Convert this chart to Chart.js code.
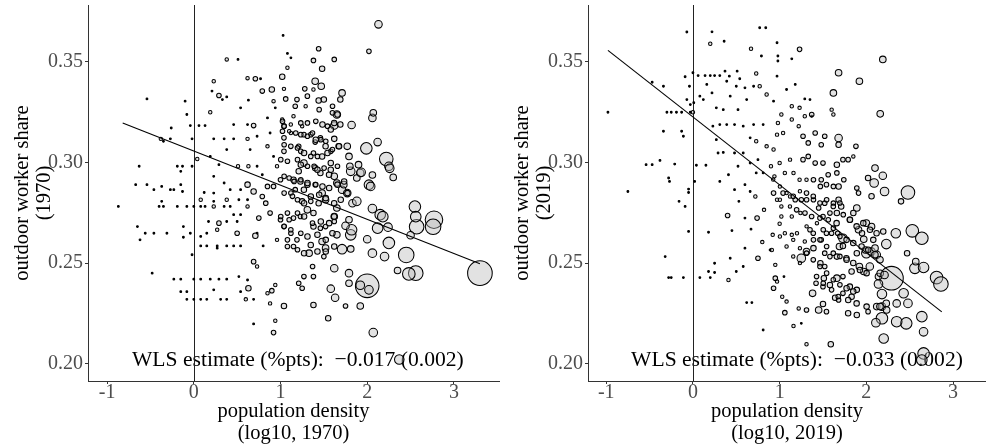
<!DOCTYPE html>
<html><head><meta charset="utf-8">
<script src="https://cdn.jsdelivr.net/npm/chart.js@4.4.1/dist/chart.umd.min.js"></script>
<style>
html,body{margin:0;padding:0;background:#fff;width:986px;height:446px;overflow:hidden}
canvas{position:absolute;top:0}
</style></head><body>
<canvas id="c1" width="500" height="446" style="left:0"></canvas>
<canvas id="c2" width="486" height="446" style="left:500px"></canvas>
<script>
// ---------- tick labels ----------
const xTicks = [-1, 0, 1, 2, 3];
const xTickLabels = ['-1', '0', '1', '2', '3'];
const yTicks = [0.20, 0.25, 0.30, 0.35];
const yTickLabels = ['0.20', '0.25', '0.30', '0.35'];

// ---------- 1970 panel: log10 density, outdoor share, weight ----------
const x1970 = [
3.30,2.00,2.77,2.76,2.57,2.55,2.56,2.45,2.56,2.48,
2.25,2.20,2.35,2.50,2.24,2.22,2.25,2.26,2.30,1.99,
2.12,2.06,2.07,2.13,2.02,2.02,2.04,2.06,2.06,2.15,
2.18,2.12,2.00,2.06,2.02,1.92,2.07,2.37,1.92,1.79,
1.79,1.81,1.82,1.81,1.71,1.75,1.79,1.83,1.88,1.81,
1.80,1.90,1.92,1.88,1.93,1.82,1.77,1.79,1.62,1.58,
1.63,1.55,1.75,1.71,1.77,1.73,1.65,1.62,1.65,1.62,
1.50,1.52,1.48,1.38,1.33,1.37,1.38,1.27,1.25,1.21,
1.38,1.04,0.92,0.94,0.69,1.65,1.71,1.69,1.62,1.44,
1.48,1.38,1.40,1.47,1.44,1.50,1.60,1.62,1.58,1.69,
1.62,1.67,1.58,1.52,1.46,1.40,1.35,1.27,1.21,1.25,
1.38,1.48,1.58,1.62,1.65,1.56,1.46,1.40,1.27,1.21,
1.15,1.23,1.31,1.40,1.48,1.52,1.44,1.35,1.27,1.17,
1.12,1.25,1.31,1.38,1.23,1.15,1.08,1.00,1.04,1.12,
1.19,1.08,0.96,1.15,1.46,1.52,1.62,1.12,1.04,1.04,
1.04,1.02,1.15,1.17,1.19,1.29,1.31,1.38,1.28,1.04,
1.06,1.02,1.08,1.12,1.08,1.03,0.92,0.94,0.90,0.79,
0.85,0.88,0.85,0.92,0.96,1.00,0.92,0.85,0.79,0.83,
0.88,0.69,0.62,0.62,0.62,0.75,0.73,0.71,0.80,0.69,
0.73,0.62,0.63,0.60,0.69,0.85,0.90,0.88,0.94,0.52,
0.54,0.38,0.31,0.23,0.15,0.08,0.00,-0.08,-0.08,-0.15,
-0.23,-0.15,0.00,0.08,0.19,0.29,0.38,-0.48,0.08,0.15,
0.27,0.38,0.46,0.54,0.27,-0.02,-0.04,-0.12,-0.12,0.08,
0.15,0.27,0.29,0.17,0.38,0.50,0.50,0.46,0.54,0.42,
0.35,0.23,0.13,0.08,0.00,-0.08,-0.19,-0.35,-0.40,-0.87,
0.23,0.08,0.38,0.52,0.54,0.42,0.35,0.23,0.12,0.23,
0.19,0.29,0.04,-0.02,-0.13,-0.19,-0.15,-0.15,-0.27,-0.23,
-0.13,-0.37,-0.46,-0.54,-0.67,-0.63,-0.37,-0.65,-0.56,-0.46,
-0.31,-0.62,-0.54,-0.10,-0.08,-0.04,0.06,0.13,-0.02,-0.26,
-0.27,-0.35,-0.38,0.19,0.21,0.23,0.29,0.38,0.33,0.38,
0.51,0.62,0.71,0.77,0.63,0.54,0.46,0.62,0.69,0.73,
0.62,0.46,0.35,0.23,0.73,0.63,0.51,0.65,0.38,0.79,
1.023,1.042,1.119,1.234,1.311,1.407,1.484,1.542,1.619,1.657,
1.599,1.446,1.023,1.100,1.176,1.234,1.311,1.369,1.407,1.465,
1.522,1.042,1.119,1.196,1.234,1.272,1.349,1.426,1.542,1.599,
1.676,1.003,1.080,1.196,1.234,1.311,1.388,1.426,1.503,1.580,
1.657,1.042,1.100,1.157,1.234,1.311,1.407,1.484,1.561,1.657,
1.734,1.042,1.138,1.196,1.272,1.349,1.446,1.522,1.619,1.695,
1.772,1.003,1.100,1.196,1.272,1.369,1.465,1.561,1.619,1.042,
1.119,1.234,1.311,1.426,1.522,1.599,1.080,1.196,1.272,1.349,
1.426,1.522];
const y1970 = [
0.245,0.2387,0.2715,0.268,0.268,0.278,0.273,0.254,0.245,0.2446,
0.260,0.2532,0.2463,0.2638,0.2678,0.3016,0.298,0.297,0.2925,0.3069,
0.310,0.322,0.3245,0.3684,0.355,0.2889,0.288,0.2937,0.277,0.274,
0.273,0.2673,0.2618,0.2549,0.2367,0.239,0.2155,0.2022,0.2287,0.245,
0.240,0.264,0.2665,0.257,0.2569,0.2685,0.2715,0.2797,0.2806,0.2955,
0.298,0.2988,0.2947,0.2922,0.295,0.3185,0.3079,0.3029,0.2474,0.2373,
0.2328,0.2226,0.2287,0.2864,0.2847,0.2889,0.2773,0.2731,0.264,0.2582,
0.2532,0.2574,0.2607,0.2681,0.2549,0.2483,0.2433,0.2433,0.2375,0.240,
0.2292,0.2287,0.2155,0.2214,0.2198,0.3237,0.3344,0.3311,0.351,0.3563,
0.3464,0.3505,0.3402,0.3377,0.3306,0.3311,0.3278,0.3182,0.3162,0.3187,
0.3116,0.3079,0.3054,0.3079,0.3121,0.310,0.3137,0.3137,0.3079,0.3179,
0.3046,0.3029,0.2996,0.293,0.2897,0.2938,0.2947,0.2971,0.2996,0.2955,
0.2913,0.2905,0.2889,0.2889,0.2847,0.2814,0.2797,0.283,0.2864,0.2864,
0.2847,0.2806,0.2764,0.2748,0.2731,0.2723,0.2748,0.2715,0.2681,0.2648,
0.2615,0.2615,0.2615,0.2582,0.2673,0.2681,0.2706,0.3145,0.3179,0.3121,
0.3054,0.3212,0.3228,0.3278,0.3311,0.3278,0.3328,0.3361,0.3364,0.3364,
0.3314,0.3424,0.3469,0.3518,0.354,0.3629,0.3303,0.327,0.3361,0.3353,
0.322,0.3145,0.3079,0.3029,0.298,0.2913,0.288,0.288,0.283,0.2797,
0.2748,0.2855,0.2889,0.2814,0.2781,0.2723,0.2648,0.2635,0.2585,0.2507,
0.2483,0.2416,0.2375,0.232,0.232,0.235,0.2363,0.230,0.2391,0.2433,
0.2358,0.232,0.232,0.2367,0.232,0.232,0.232,0.232,0.2358,0.2358,
0.242,0.242,0.242,0.242,0.242,0.242,0.242,0.245,0.2585,0.2585,
0.2585,0.2585,0.2585,0.2585,0.2574,0.2541,0.2648,0.2681,0.2628,0.2632,
0.2648,0.2665,0.2698,0.2706,0.2706,0.2706,0.2648,0.274,0.274,0.2781,
0.2781,0.2781,0.2781,0.2781,0.2781,0.2781,0.2781,0.2781,0.2781,0.2781,
0.2806,0.2814,0.2814,0.2814,0.2864,0.2864,0.2897,0.2847,0.285,0.293,
0.3029,0.2988,0.3016,0.298,0.298,0.298,0.2955,0.2889,0.2864,0.2864,
0.2855,0.288,0.2864,0.2889,0.2889,0.298,0.2806,0.2681,0.2648,0.2648,
0.2648,0.2615,0.3314,0.3303,0.3237,0.3182,0.3182,0.3182,0.3116,0.317,
0.3116,0.3104,0.3116,0.3248,0.3353,0.3402,0.3331,0.3324,0.3311,0.351,
0.351,0.3417,0.3414,0.3414,0.3308,0.327,0.3187,0.3187,0.3182,0.3129,
0.3116,0.3116,0.3116,0.3116,0.298,0.298,0.298,0.3063,0.3063,0.2938,
0.3203,0.3179,0.3187,0.3195,0.3195,0.3203,0.3187,0.3179,0.3195,0.3237,
0.3245,0.3261,0.3154,0.3154,0.3145,0.3137,0.3129,0.3145,0.3112,0.3112,
0.3104,0.3087,0.3079,0.3071,0.3054,0.3046,0.3029,0.3029,0.3046,0.3063,
0.3079,0.3013,0.3005,0.3013,0.2988,0.298,0.298,0.2963,0.2971,0.2963,
0.298,0.293,0.2922,0.2905,0.2913,0.2897,0.2889,0.288,0.2872,0.2889,
0.2905,0.2847,0.2831,0.2814,0.2797,0.2806,0.2839,0.2822,0.2797,0.2814,
0.2847,0.2731,0.2715,0.2748,0.2731,0.2698,0.2706,0.2698,0.2731,0.2682,
0.2665,0.2648,0.2632,0.264,0.2615,0.2648,0.2582,0.2566,0.2549,0.259,
0.2557,0.2557];
const w1970 = [
144,132,72,56,49,30,25,56,49,36,
30,16,9,12,16,42,16,16,9,30,
12,12,9,12,4,20,16,9,16,25,
25,25,12,16,16,16,16,20,9,12,
9,25,25,9,20,12,9,12,16,16,
9,9,12,9,16,12,9,9,12,12,
12,6,4,12,12,9,9,9,9,6,
4,9,9,6,9,4,4,4,4,4,
6,6,4,2,1,12,9,6,4,4,
6,4,9,9,6,6,4,12,6,6,
6,6,4,6,4,4,4,4,4,2,
4,6,6,9,9,6,6,6,9,6,
6,6,6,4,9,9,6,6,6,4,
4,6,9,6,4,4,4,4,4,4,
4,4,2,4,4,4,4,2,4,4,
4,2,2,4,4,2,4,2,4,2,
4,6,2,1,1,1,2,1,6,4,
1,1,2,1,2,4,4,4,4,4,
4,6,6,1,2,4,1,6,1,4,
2,1,6,2,1,2,4,2,2,1,
1,1,1,1,1,1,1,1,1,1,
1,1,1,1,1,1,1,1,1,1,
1,1,1,1,1,1,1,1,1,1,
1,2,4,1,1,1,4,1,1,1,
1,2,1,1,1,1,1,1,1,1,
1,2,2,1,1,1,1,1,1,1,
1,1,2,1,1,1,1,1,1,1,
1,1,1,1,1,1,1,1,1,1,
1,1,1,1,1,1,1,1,1,1,
1,1,2,2,1,2,4,1,1,2,
1,2,4,1,1,1,1,1,4,1,
2,1,1,1,1,2,2,1,1,1,
4,4,2,4,4,4,6,4,6,6,
4,4,4,2,4,4,4,4,6,4,
4,4,4,4,4,6,4,4,6,4,
6,4,4,4,6,4,4,6,4,6,
4,4,4,4,4,6,4,6,6,6,
6,4,4,4,6,4,6,6,6,6,
6,4,4,4,6,4,6,6,6,4,
4,4,6,6,6,6,4,4,6,6,
6,6];
const fitX1970 = [-0.82, 3.30];
const fitY1970 = [0.3195, 0.2497];

// ---------- 2019 panel ----------
const x2019 = [
2.29,2.48,2.53,2.64,2.34,2.23,2.81,2.86,2.56,2.66,
2.57,2.47,2.43,2.48,2.35,2.64,2.46,2.35,2.18,2.11,
2.20,2.66,2.66,2.64,2.18,2.14,2.12,2.18,2.23,2.14,
2.16,2.21,2.04,1.97,1.92,2.00,2.06,2.12,2.10,1.99,
1.89,1.91,1.97,2.00,2.06,2.08,1.85,1.89,1.81,1.73,
1.69,1.77,1.83,1.73,1.81,1.89,1.83,1.73,1.79,1.89,
2.02,1.66,1.58,1.64,1.68,1.54,1.45,1.50,1.31,1.22,
1.38,1.42,1.50,1.51,1.59,1.31,1.25,1.16,1.06,0.81,
1.25,1.31,1.39,1.47,1.52,1.52,1.58,1.66,1.67,1.62,
1.54,1.48,1.39,1.29,1.20,1.14,1.35,1.43,1.50,1.58,
1.66,1.71,1.68,1.62,1.52,1.45,1.39,1.31,1.25,1.18,
1.12,1.04,0.97,0.93,1.02,1.02,1.14,1.24,1.47,1.54,
1.62,1.68,1.74,1.66,1.56,1.48,1.39,1.31,1.23,1.16,
1.06,0.94,0.90,1.00,1.12,1.27,1.33,1.41,1.50,1.66,
1.73,1.79,1.85,1.88,1.89,1.91,2.02,2.09,2.10,2.19,
2.21,2.06,2.40,1.68,1.68,1.52,1.48,1.41,1.33,1.27,
1.22,1.14,1.14,1.23,1.29,1.37,1.35,1.37,1.62,1.68,
1.92,1.60,1.62,2.16,2.19,1.23,0.97,0.98,0.98,1.14,
0.77,0.84,0.79,0.67,-0.07,0.22,0.20,0.36,-0.98,-0.75,
-0.54,-0.47,-0.34,-0.47,-0.30,-0.25,-0.19,-0.13,-0.03,0.00,
-0.13,-0.11,-0.34,-0.38,-0.28,-0.27,-0.21,-0.16,-0.09,-0.05,
-0.05,-0.05,-0.32,-0.28,-0.25,-0.11,0.08,0.18,0.20,0.25,
0.18,0.02,0.04,0.15,0.01,-0.03,-0.07,-0.09,-0.04,0.00,
0.06,0.14,0.20,0.25,0.31,0.37,0.42,0.51,0.54,0.39,
0.08,0.12,0.16,0.22,0.27,0.35,0.43,0.50,0.60,0.70,
0.73,0.77,0.85,0.93,0.97,1.08,1.18,1.29,0.62,0.52,
0.58,0.48,0.31,0.23,0.27,0.39,0.70,0.81,0.66,0.73,
0.85,0.93,0.97,1.04,0.98,1.02,0.29,0.35,0.48,0.58,
0.66,0.75,0.81,0.73,0.52,0.41,0.31,0.48,0.60,0.66,
0.72,0.53,0.40,0.45,0.60,0.67,0.74,0.82,0.80,0.91,
0.95,0.95,0.97,1.05,0.93,1.03,1.08,0.75,0.60,0.58,
0.50,0.43,0.41,0.25,0.62,0.68,0.89,1.06,0.92,1.00,
1.73,1.95,
0.926,1.003,1.080,1.157,1.234,1.311,1.388,1.465,1.542,1.619,
1.695,1.003,1.119,1.196,1.292,1.369,1.465,1.561,1.657,1.734,
1.811,1.888,1.965,2.042,2.118,2.195,1.503,1.599,1.695,1.772,
1.849,1.945,2.022,2.099,2.157,1.311,1.388,1.465,1.542,1.619,
1.695,1.772,1.849,1.926,2.003,1.157,1.234,1.311,1.388,1.465,
1.542,1.619,1.695,1.772,1.849,1.003,1.080,1.157,1.234,1.426,
1.503,1.599,1.676,1.791,1.888,2.003,2.157,2.234];
const y2019 = [
0.2425,0.285,0.266,0.2623,0.2648,0.2594,0.2428,0.2396,0.2474,0.2478,
0.2507,0.2549,0.235,0.230,0.230,0.2234,0.2201,0.2209,0.2226,0.2204,
0.2126,0.2159,0.2052,0.2019,0.2346,0.2396,0.2284,0.2284,0.230,0.2433,
0.2449,0.2441,0.2483,0.2458,0.2483,0.2549,0.2557,0.2541,0.2574,0.2565,
0.2549,0.2665,0.2618,0.2698,0.2681,0.2615,0.2748,0.2773,0.2715,0.2623,
0.2582,0.2524,0.2458,0.2433,0.2383,0.2367,0.2333,0.235,0.2251,0.2242,
0.2259,0.2425,0.2391,0.2328,0.2317,0.2259,0.2267,0.2297,0.2267,0.2275,
0.235,0.240,0.2383,0.2425,0.2097,0.2097,0.2201,0.2188,0.2254,0.2168,
0.2524,0.2557,0.2574,0.2499,0.2483,0.2549,0.2532,0.2532,0.2648,0.2673,
0.2648,0.2615,0.2615,0.2607,0.2648,0.264,0.2665,0.2698,0.2731,0.2748,
0.2748,0.2781,0.2814,0.2797,0.2797,0.2773,0.2814,0.2847,0.2814,0.2814,
0.283,0.2847,0.2814,0.2847,0.2781,0.2731,0.2731,0.2748,0.288,0.2889,
0.288,0.288,0.2913,0.2947,0.2938,0.2913,0.2913,0.2913,0.2913,0.2947,
0.2947,0.293,0.298,0.2996,0.3013,0.3013,0.3029,0.2996,0.2996,0.2988,
0.3013,0.3013,0.3029,0.3079,0.2872,0.2847,0.2922,0.2897,0.2971,0.2933,
0.2855,0.2831,0.2806,0.312,0.3087,0.3129,0.3087,0.3145,0.3096,0.3129,
0.3179,0.3212,0.3278,0.327,0.3228,0.3228,0.3311,0.3237,0.3344,0.3444,
0.3402,0.3261,0.3237,0.324,0.351,0.356,0.3593,0.3527,0.3502,0.3513,
0.3667,0.3667,0.3527,0.3563,0.3646,0.3647,0.3588,0.360,0.3248,0.2855,
0.2988,0.2988,0.3377,0.3397,0.3248,0.3248,0.3248,0.3248,0.3248,0.3248,
0.3154,0.3129,0.3154,0.3009,0.2922,0.2905,0.2991,0.2806,0.2781,0.2867,
0.285,0.2657,0.2532,0.2428,0.2428,0.2428,0.2428,0.2458,0.2428,0.2499,
0.2653,0.2905,0.2985,0.2985,0.3295,0.3286,0.3311,0.3424,0.3377,0.3444,
0.343,0.343,0.343,0.343,0.343,0.3452,0.3427,0.3452,0.3414,0.3402,
0.3328,0.3311,0.3386,0.3344,0.327,0.3261,0.3328,0.3377,0.3369,0.3377,
0.344,0.3377,0.3336,0.3303,0.3427,0.3361,0.3386,0.3314,0.3311,0.3261,
0.3179,0.3187,0.3187,0.3179,0.3112,0.3187,0.3187,0.3187,0.3121,0.3104,
0.3079,0.3063,0.3137,0.3145,0.3195,0.3237,0.3046,0.3049,0.3046,0.3046,
0.2996,0.3013,0.2947,0.2947,0.298,0.2938,0.2905,0.2864,0.2889,0.2855,
0.283,0.2806,0.2736,0.2661,0.2723,0.2668,0.2723,0.2764,0.2604,0.2565,
0.2491,0.2425,0.2408,0.2433,0.2375,0.2333,0.2309,0.2524,0.2574,0.2483,
0.2458,0.2524,0.2416,0.2453,0.2304,0.2304,0.2565,0.2648,0.264,0.2695,
0.2585,0.2648,
0.2914,0.288,0.2847,0.2831,0.2856,0.2814,0.2831,0.2798,0.2814,0.2781,
0.2798,0.2814,0.2781,0.2764,0.2748,0.2731,0.2723,0.2715,0.2698,0.274,
0.2715,0.2682,0.2698,0.2665,0.2648,0.2657,0.2665,0.2648,0.2632,0.2615,
0.2599,0.2582,0.2566,0.2541,0.2516,0.2682,0.2648,0.2615,0.2582,0.2549,
0.2533,0.2516,0.25,0.2466,0.245,0.2615,0.2574,0.2549,0.2516,0.2483,
0.245,0.2417,0.2392,0.2375,0.2359,0.2632,0.2582,0.2533,0.25,0.2433,
0.24,0.2367,0.2334,0.2317,0.23,0.2284,0.2284,0.2267];
const w2019 = [
132,42,36,36,20,20,36,49,25,25,
9,6,20,16,12,25,30,25,30,16,
20,16,30,25,20,16,9,12,9,9,
9,12,12,9,9,20,12,12,9,9,
6,9,9,9,9,6,6,9,6,16,
9,6,6,4,6,6,6,4,6,6,
4,9,6,6,4,4,9,6,4,2,
9,4,4,6,6,2,1,2,4,1,
16,9,6,6,4,4,4,6,4,4,
4,4,4,2,2,2,4,2,4,4,
6,6,6,4,4,4,4,4,4,4,
2,4,2,4,2,2,2,2,4,4,
4,6,4,4,4,4,4,2,2,2,
2,2,2,2,2,4,4,4,4,6,
4,4,2,4,4,4,6,16,9,12,
16,6,6,12,6,4,4,4,4,4,
2,2,2,2,2,1,1,4,9,9,
9,2,2,9,9,4,1,1,1,1,
1,1,1,2,1,1,2,1,1,1,
1,1,1,1,1,1,1,1,1,2,
1,1,1,1,1,1,1,1,1,1,
1,1,1,1,1,1,1,1,1,1,
1,1,1,1,1,1,1,1,1,1,
1,1,1,1,1,1,1,1,1,1,
1,1,1,1,1,1,1,1,1,1,
2,2,2,1,1,1,1,1,1,1,
1,1,1,1,1,1,1,1,1,2,
2,2,2,2,2,2,1,1,1,1,
1,1,1,1,1,1,1,1,1,1,
2,1,4,1,1,1,4,2,2,2,
2,4,2,1,4,2,2,4,1,1,
1,1,2,1,1,1,1,2,2,2,
6,6,
2,2,2,4,2,4,4,4,4,4,
4,2,2,4,4,4,4,4,6,4,
6,6,6,6,6,6,4,4,4,6,
6,6,6,9,9,2,4,4,4,4,
4,6,6,6,6,2,2,4,4,4,
4,4,4,6,6,2,2,2,2,4,
4,4,4,6,6,6,9,9];
const fitX2019 = [-0.98, 2.87];
const fitY2019 = [0.3555, 0.2258];

const estimates = ['\u22120.017', '\u22120.033'];
const stdErrors = ['(0.002)', '(0.002)'];

// ---------- drawing ----------
const FONT = '"Liberation Serif","DejaVu Serif","Times New Roman",serif';
const LABEL_X = 1.2, LABEL_Y = 0.2018;

function makePanel(id, xs, ys, ws, fx, fy, year, xMin, xMax, est, se, padRight) {
  const n = Math.min(xs.length, ys.length, ws.length);
  const pts = [];
  for (let i = 0; i < n; i++) pts.push({x: xs[i], y: ys[i], w: ws[i]});
  const fit = fx.map((v, i) => ({x: v, y: fy[i]}));
  const overlay = {
    id: 'overlay' + id,
    beforeDatasetsDraw(chart) {
      const {ctx, chartArea: a, scales: {x, y}} = chart;
      ctx.save();
      ctx.font = '21.6px ' + FONT;
      ctx.fillStyle = '#000';
      ctx.textAlign = 'center';
      ctx.textBaseline = 'middle';
      ctx.fillText('WLS estimate (%pts):  ' + est + ' ' + se, x.getPixelForValue(LABEL_X), y.getPixelForValue(LABEL_Y));
      const x0 = Math.round(x.getPixelForValue(0)) + 0.5;
      ctx.strokeStyle = '#222';
      ctx.lineWidth = 1;
      ctx.beginPath(); ctx.moveTo(x0, a.top); ctx.lineTo(x0, a.bottom); ctx.stroke();
      ctx.restore();
    }
  };
  const gridOpts = {drawOnChartArea: false, drawTicks: true, tickLength: 3, color: '#333', tickColor: '#333', tickWidth: 1};
  return new Chart(document.getElementById(id), {
    type: 'scatter',
    data: {datasets: [
      {type: 'line', data: fit, borderColor: '#000', borderWidth: 1.1, pointRadius: 0, fill: false, showLine: true},
      {data: pts,
       pointRadius: c => { const w = c.raw ? c.raw.w : 1; return w <= 1 ? 0.9 : Math.sqrt(w) + 0.3; },
       pointBackgroundColor: c => (c.raw && c.raw.w <= 1) ? '#000' : 'rgba(185,185,185,0.42)',
       pointBorderColor: '#000', pointBorderWidth: 1.05}
    ]},
    options: {
      responsive: false, devicePixelRatio: 1, animation: false,
      events: [],
      layout: {autoPadding: false, padding: {top: 5, right: padRight, bottom: 0, left: 0}},
      plugins: {legend: {display: false}, tooltip: {enabled: false}},
      scales: {
        x: {
          type: 'linear', min: xMin, max: xMax,
          afterBuildTicks: s => { s.ticks = xTicks.map(v => ({value: v})); },
          afterFit: s => { s.height = 65; s.paddingLeft = 0; s.paddingRight = 0; },
          ticks: {color: '#4d4d4d', font: {family: FONT, size: 20}, padding: -3,
                  callback: v => { const i = xTicks.indexOf(v); return i >= 0 ? xTickLabels[i] : ''; }},
          grid: gridOpts,
          border: {display: true, color: '#333', width: 1},
          title: {display: true, text: ['population density', '(log10, ' + year + ')'], color: '#000',
                  font: {family: FONT, size: 20.5, lineHeight: 1.05}, padding: {top: 0, bottom: 2}}
        },
        y: {
          type: 'linear', min: 0.1915, max: 0.378,
          afterBuildTicks: s => { s.ticks = yTicks.map(v => ({value: v})); },
          afterFit: s => { s.width = 88; s.paddingTop = 0; s.paddingBottom = 0; },
          ticks: {color: '#4d4d4d', font: {family: FONT, size: 20}, padding: 2,
                  callback: v => { const i = yTicks.findIndex(t => Math.abs(t - v) < 1e-9); return i >= 0 ? yTickLabels[i] : ''; }},
          grid: gridOpts,
          border: {display: true, color: '#333', width: 1},
          title: {display: true, text: ['outdoor worker share', '(' + year + ')'], color: '#000',
                  font: {family: FONT, size: 20.5, lineHeight: 1.05}, padding: {top: 12, bottom: 0}}
        }
      }
    },
    plugins: [overlay]
  });
}

makePanel('c1', x1970, y1970, w1970, fitX1970, fitY1970, '1970', -1.22, 3.52, estimates[0], stdErrors[0], 1);
makePanel('c2', x2019, y2019, w2019, fitX2019, fitY2019, '2019', -1.21, 3.38, estimates[1], stdErrors[1], 0);
</script>
</body></html>
